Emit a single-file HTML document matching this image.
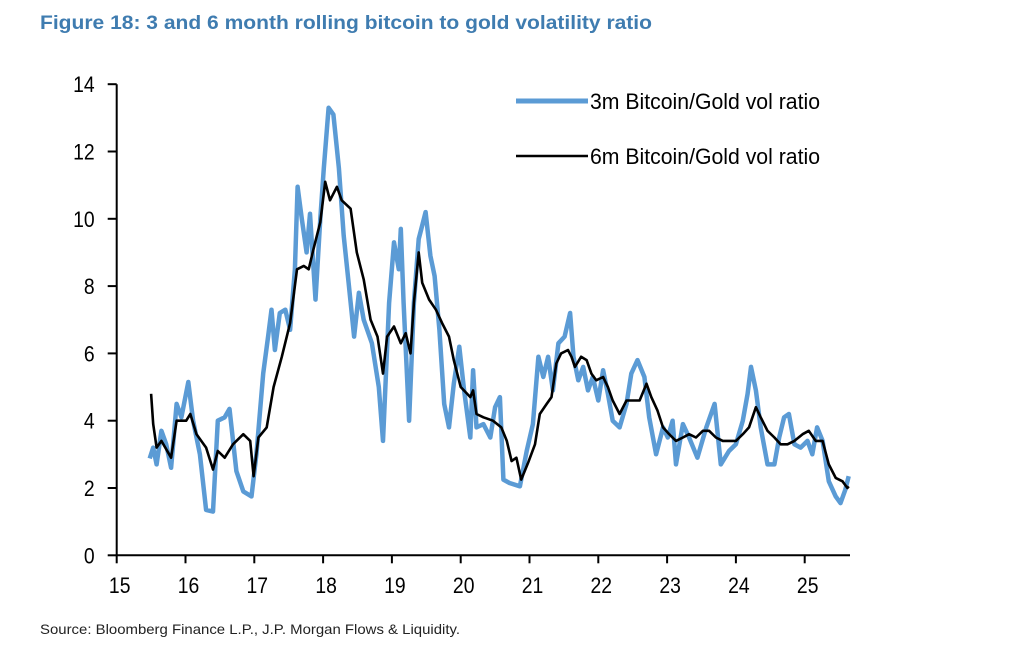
<!DOCTYPE html>
<html><head><meta charset="utf-8"><style>
html,body{margin:0;padding:0;background:#fff;}
svg{display:block;font-family:"Liberation Sans",Arial,sans-serif;}
</style></head><body>
<svg id="chart" width="1024" height="650" viewBox="0 0 1024 650">
<text x="40" y="29" font-size="19" font-weight="bold" fill="#3f7cb0" textLength="612" lengthAdjust="spacingAndGlyphs">Figure 18: 3 and 6 month rolling bitcoin to gold volatility ratio</text>
<g id="axes"></g>
<g id="series"></g>
<g>
<g>
<line x1="516" y1="101" x2="588" y2="101" stroke="#5b9bd5" stroke-width="5"/>
<text x="590" y="109" font-size="22" fill="#000" textLength="230" lengthAdjust="spacingAndGlyphs">3m Bitcoin/Gold vol ratio</text>
</g>
<g>
<line x1="516" y1="156" x2="588" y2="156" stroke="#000" stroke-width="2.5"/>
<text x="590" y="164" font-size="22" fill="#000" textLength="230" lengthAdjust="spacingAndGlyphs">6m Bitcoin/Gold vol ratio</text>
</g>
</g>
<text x="40" y="634" font-size="14" fill="#222" textLength="420" lengthAdjust="spacingAndGlyphs">Source: Bloomberg Finance L.P., J.P. Morgan Flows &amp; Liquidity.</text>
</svg>
<script>
const xTicks = [15,16,17,18,19,20,21,22,23,24,25];
const yTicks = [0,2,4,6,8,10,12,14];
const x3m = [15.48,15.53,15.58,15.65,15.72,15.79,15.87,15.94,16.04,16.11,16.21,16.3,16.4,16.47,16.57,16.64,16.74,16.84,16.96,17.03,17.13,17.2,17.25,17.3,17.37,17.45,17.52,17.59,17.63,17.69,17.76,17.81,17.89,17.96,18.01,18.08,18.15,18.23,18.3,18.37,18.45,18.52,18.59,18.71,18.81,18.87,18.96,19.03,19.1,19.13,19.17,19.25,19.32,19.39,19.44,19.49,19.56,19.62,19.69,19.76,19.83,19.9,19.98,20.05,20.14,20.18,20.23,20.33,20.43,20.5,20.57,20.62,20.71,20.86,20.96,21.05,21.13,21.2,21.27,21.34,21.42,21.51,21.59,21.64,21.71,21.78,21.85,21.92,22.0,22.07,22.14,22.21,22.31,22.41,22.48,22.57,22.67,22.74,22.84,22.94,23.01,23.08,23.13,23.23,23.32,23.44,23.57,23.69,23.78,23.9,24.0,24.1,24.17,24.22,24.29,24.36,24.46,24.56,24.63,24.7,24.77,24.85,24.94,25.04,25.11,25.18,25.26,25.35,25.45,25.52,25.59,25.64];
const v3m = [2.88,3.2,2.7,3.7,3.3,2.6,4.5,4.1,5.15,4.0,3.0,1.35,1.3,4.0,4.1,4.35,2.5,1.9,1.75,3.0,5.4,6.5,7.3,6.1,7.2,7.3,6.7,8.5,10.95,10.0,9.0,10.15,7.6,10.0,11.5,13.3,13.1,11.5,9.5,8.1,6.5,7.8,7.0,6.3,5.0,3.4,7.5,9.3,8.5,9.7,7.5,4.0,7.5,9.4,9.8,10.2,8.9,8.3,6.7,4.5,3.8,5.1,6.2,4.9,3.5,5.5,3.8,3.9,3.5,4.4,4.7,2.25,2.15,2.05,3.1,3.9,5.9,5.3,5.9,4.9,6.3,6.5,7.2,5.9,5.2,5.6,4.9,5.3,4.6,5.5,4.8,4.0,3.8,4.5,5.4,5.8,5.3,4.1,3.0,3.8,3.5,4.0,2.7,3.9,3.5,2.9,3.8,4.5,2.7,3.1,3.3,4.0,4.8,5.6,4.9,3.8,2.7,2.7,3.5,4.1,4.2,3.3,3.2,3.4,3.0,3.8,3.4,2.2,1.75,1.55,1.95,2.35];
const x6m = [15.5,15.53,15.58,15.65,15.79,15.87,16.01,16.07,16.16,16.3,16.4,16.47,16.57,16.69,16.84,16.94,16.99,17.06,17.18,17.28,17.4,17.52,17.62,17.72,17.79,17.86,17.96,18.03,18.1,18.2,18.27,18.4,18.49,18.59,18.69,18.79,18.87,18.93,19.03,19.13,19.2,19.27,19.32,19.39,19.44,19.54,19.64,19.73,19.83,19.9,20.0,20.14,20.18,20.23,20.33,20.47,20.59,20.67,20.74,20.81,20.88,20.98,21.08,21.15,21.25,21.32,21.39,21.46,21.56,21.61,21.66,21.75,21.83,21.9,21.97,22.07,22.14,22.21,22.31,22.41,22.5,22.6,22.7,22.77,22.86,22.94,23.03,23.13,23.23,23.32,23.42,23.52,23.61,23.71,23.81,23.9,24.0,24.1,24.19,24.29,24.36,24.46,24.56,24.65,24.75,24.85,24.97,25.06,25.16,25.26,25.35,25.45,25.55,25.62,25.64];
const v6m = [4.8,3.9,3.2,3.4,2.9,4.0,4.0,4.2,3.6,3.2,2.55,3.1,2.9,3.3,3.6,3.4,2.35,3.5,3.8,5.0,5.9,6.9,8.5,8.6,8.5,9.1,9.9,11.1,10.55,10.95,10.55,10.3,9.0,8.2,7.0,6.5,5.4,6.5,6.8,6.3,6.6,6.0,7.5,9.0,8.1,7.6,7.3,6.9,6.5,5.8,5.0,4.7,4.9,4.2,4.1,4.0,3.8,3.4,2.8,2.9,2.25,2.75,3.3,4.2,4.5,4.7,5.7,6.0,6.1,5.9,5.6,5.9,5.8,5.4,5.2,5.3,5.0,4.6,4.2,4.6,4.6,4.6,5.1,4.7,4.3,3.8,3.6,3.4,3.5,3.6,3.5,3.7,3.7,3.5,3.4,3.4,3.4,3.6,3.8,4.4,4.1,3.7,3.5,3.3,3.3,3.4,3.6,3.7,3.4,3.4,2.7,2.3,2.2,2.0,2.05];

const NS='http://www.w3.org/2000/svg';
const X0=116.7, XS=68.8, Y0=555.3, YS=33.65, XEND=850;
function sx(v){return X0+(v-15)*XS;}
function sy(v){return Y0-v*YS;}
function mk(tag,attrs,parent){const e=document.createElementNS(NS,tag);for(const k in attrs)e.setAttribute(k,attrs[k]);parent.appendChild(e);return e;}
const axes=document.getElementById('axes');
const ya=mk('line',{x1:X0,y1:sy(14),x2:X0,y2:Y0,stroke:'#000','stroke-width':2},axes);


const xa=mk('line',{x1:X0-1,y1:Y0,x2:XEND,y2:Y0,stroke:'#000','stroke-width':2},axes);


yTicks.forEach(t=>{
  const l=mk('line',{x1:X0-9,y1:sy(t),x2:X0,y2:sy(t),stroke:'#000','stroke-width':2},axes);
  
  
  const tx=mk('text',{x:X0-22,y:sy(t)+8,'font-size':22,'text-anchor':'end',fill:'#000',transform:`translate(${X0-22},0) scale(0.88,1) translate(${-(X0-22)},0)`},axes);
  tx.textContent=t;
  
  
});
xTicks.forEach(t=>{
  const l=mk('line',{x1:sx(t),y1:Y0,x2:sx(t),y2:Y0+8,stroke:'#000','stroke-width':2},axes);
  
  
  const cx=sx(t)+3;
  const tx=mk('text',{x:cx,y:593,'font-size':22,'text-anchor':'middle',fill:'#000',transform:`translate(${cx},0) scale(0.88,1) translate(${-cx},0)`},axes);
  tx.textContent=t;
  
  
});
const ser=document.getElementById('series');
function path(xs,vs){return xs.map((x,i)=>(i?'L':'M')+sx(x).toFixed(1)+','+sy(vs[i]).toFixed(1)).join(' ');}
const p3=mk('path',{d:path(x3m,v3m),fill:'none',stroke:'#5b9bd5','stroke-width':4.5,'stroke-linejoin':'round'},ser);


const p6=mk('path',{d:path(x6m,v6m),fill:'none',stroke:'#000','stroke-width':2.6,'stroke-linejoin':'round'},ser);


</script>
</body></html>
